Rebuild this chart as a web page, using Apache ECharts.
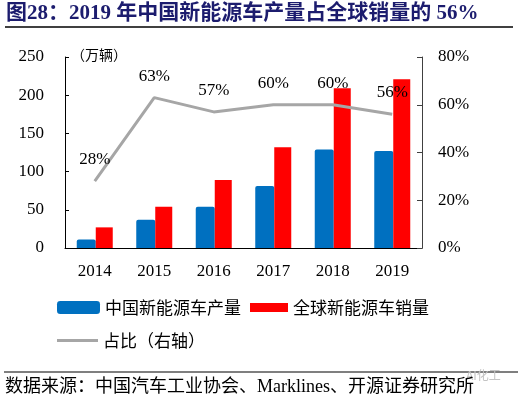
<!DOCTYPE html>
<html>
<head>
<meta charset="utf-8">
<script src="https://cdn.jsdelivr.net/npm/echarts@6/dist/echarts.min.js"></script>
<style>
  html, body { margin: 0; padding: 0; background: #fff; }
  #chart { width: 524px; height: 399px; }
</style>
</head>
<body>
<div id="chart"></div>
<script>
// 数据
const years = ['2014', '2015', '2016', '2017', '2018', '2019']
const chinaOutput = [11, 37, 54, 81, 129, 127]      // 中国新能源车产量（万辆）
const globalSales = [27, 54, 89, 132, 209, 221]     // 全球新能源车销量（万辆）
const sharePct = [28, 63, 57, 60, 60, 56]           // 占比（%）

const FONT = "'Liberation Serif', 'Times New Roman', 'Noto Sans CJK SC', serif"
const CJK = "'Noto Sans CJK SC', 'Liberation Serif', serif"

const myChart = echarts.init(document.getElementById('chart'))

myChart.setOption({
  animation: false,
  title: {
    text: '图28：2019 年中国新能源车产量占全球销量的 56%',
    left: 6,
    top: 3,
    padding: 0,
    textStyle: {
      fontFamily: FONT,
      fontSize: 21,
      fontWeight: 'bold',
      color: '#1c1c6e'
    }
  },
  legend: [{
    data: ['中国新能源车产量'],
    left: 57,
    top: 299,
    padding: 0,
    icon: 'roundRect',
    itemWidth: 43,
    itemHeight: 13,
    textStyle: { fontFamily: CJK, fontSize: 17, color: '#000' }
  }, {
    data: ['全球新能源车销量'],
    left: 250,
    top: 299,
    padding: 0,
    icon: 'rect',
    itemWidth: 38,
    itemHeight: 9,
    textStyle: { fontFamily: CJK, fontSize: 17, color: '#000' }
  }, {
    data: ['占比（右轴）'],
    left: 57,
    top: 332,
    padding: 0,
    icon: 'rect',
    itemWidth: 41,
    itemHeight: 3,
    textStyle: { fontFamily: CJK, fontSize: 17, color: '#000' }
  }],
  grid: {
    left: 65,
    right: 102,
    top: 57,
    bottom: 151
  },
  xAxis: {
    type: 'category',
    data: years,
    axisLine: { lineStyle: { color: '#000', width: 1 } },
    axisTick: { inside: true, length: 5, lineStyle: { color: '#000' } },
    axisLabel: { fontFamily: FONT, fontSize: 17, color: '#000', margin: 15 }
  },
  yAxis: [{
    type: 'value',
    min: 0,
    max: 250,
    interval: 50,
    name: '（万辆）',
    nameLocation: 'end',
    nameGap: 2,
    nameTextStyle: {
      fontFamily: CJK,
      fontSize: 14,
      color: '#000',
      align: 'left',
      verticalAlign: 'middle',
      padding: [0, 0, 0, 6]
    },
    axisLine: { show: true, lineStyle: { color: '#000', width: 1 } },
    axisTick: { show: true, inside: true, length: 4, lineStyle: { color: '#000' } },
    axisLabel: { fontFamily: FONT, fontSize: 17, color: '#000', margin: 21 },
    splitLine: { show: false }
  }, {
    type: 'value',
    position: 'right',
    min: 0,
    max: 80,
    interval: 20,
    axisLine: { show: true, lineStyle: { color: '#404040', width: 1 } },
    axisTick: { show: true, inside: true, length: 5, lineStyle: { color: '#404040' } },
    axisLabel: { fontFamily: FONT, fontSize: 17, color: '#000', margin: 16, formatter: '{value}%' },
    splitLine: { show: false }
  }],
  series: [{
    name: '中国新能源车产量',
    type: 'bar',
    data: chinaOutput,
    barWidth: 19,
    barGap: 0,
    itemStyle: { color: '#0070c0', borderRadius: [2, 2, 0, 0] }
  }, {
    name: '全球新能源车销量',
    type: 'bar',
    data: globalSales,
    barWidth: 17,
    barGap: 0,
    itemStyle: { color: '#ff0000' }
  }, {
    name: '占比（右轴）',
    type: 'line',
    yAxisIndex: 1,
    data: sharePct,
    symbol: 'circle',
    symbolSize: 0,
    lineStyle: { color: '#a6a6a6', width: 3 },
    itemStyle: { color: '#a6a6a6' },
    label: {
      show: true,
      position: 'top',
      distance: 13,
      formatter: '{c}%',
      fontFamily: FONT,
      fontSize: 17,
      color: '#000'
    },
    z: 5
  }],
  graphic: [{
    type: 'line',
    shape: { x1: 5, y1: 27, x2: 513, y2: 27 },
    style: { stroke: '#000', lineWidth: 1.5 }
  }, {
    type: 'line',
    shape: { x1: 4, y1: 372, x2: 518, y2: 372 },
    style: { stroke: '#000', lineWidth: 1.2 }
  }, {
    type: 'text',
    left: 466,
    top: 369,
    style: { text: 'AI化工', fill: '#c4c4c4', fontSize: 12, fontFamily: CJK }
  }, {
    type: 'text',
    left: 5,
    top: 378,
    style: {
      text: '数据来源：中国汽车工业协会、Marklines、开源证券研究所',
      fill: '#000',
      fontSize: 18,
      fontFamily: FONT
    }
  }]
})
</script>
</body>
</html>
